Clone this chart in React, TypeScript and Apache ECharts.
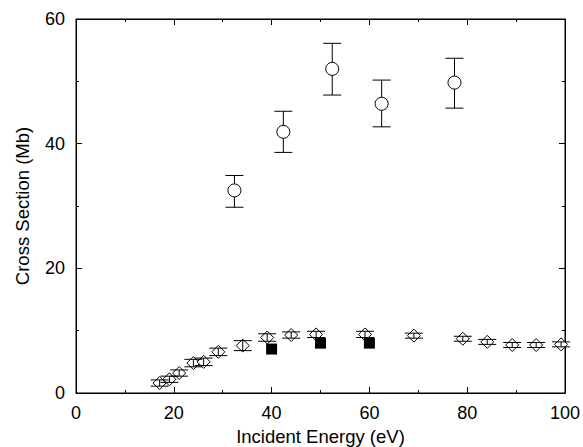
import React, { useEffect, useRef } from "react";
import * as echarts from "echarts";

const xTicks = [0, 20, 40, 60, 80, 100];
const yTicks = [0, 20, 40, 60];

const circleX = [32.4, 42.4, 52.4, 62.5, 77.4];
const circleY = [32.5, 41.9, 52.0, 46.4, 49.8];
const circleLo = [29.8, 38.6, 47.8, 42.7, 45.7];
const circleHi = [34.9, 45.2, 56.1, 50.2, 53.7];

const diamondX = [17.1, 19.1, 21.1, 24.0, 26.1, 29.1, 34.1, 39.1, 44.0, 49.1, 59.1, 69.1, 79.1, 84.1, 89.2, 94.1, 99.2];
const diamondY = [1.6, 2.2, 3.2, 4.8, 5.0, 6.6, 7.6, 8.9, 9.3, 9.4, 9.4, 9.2, 8.7, 8.2, 7.7, 7.7, 7.8];
const diamondErr = [0.5, 0.5, 0.5, 0.6, 0.6, 0.6, 0.8, 0.6, 0.5, 0.5, 0.5, 0.4, 0.4, 0.4, 0.4, 0.4, 0.4];

const squareX = [40, 50, 60];
const squareY = [7.05, 8.0, 8.0];

const FONT = "'Liberation Sans', Arial, Helvetica, sans-serif";

function errRender(params: any, api: any) {
  const x = api.value(0);
  const lo = api.value(2);
  const hi = api.value(3);
  const pLo = api.coord([x, lo]);
  const pHi = api.coord([x, hi]);
  const hw = 9;
  const style = { stroke: "#000", lineWidth: 1, fill: null };
  return {
    type: "group",
    children: [
      { type: "line", shape: { x1: pLo[0], y1: pLo[1], x2: pHi[0], y2: pHi[1] }, style },
      { type: "line", shape: { x1: pLo[0] - hw, y1: pLo[1], x2: pLo[0] + hw, y2: pLo[1] }, style },
      { type: "line", shape: { x1: pHi[0] - hw, y1: pHi[1], x2: pHi[0] + hw, y2: pHi[1] }, style },
    ],
  };
}

export default function App() {
  const ref = useRef<HTMLDivElement>(null);
  useEffect(() => {
    if (!ref.current) return;
    const chart = echarts.init(ref.current, null, { renderer: "svg" });
    const axisLine = { show: true, onZero: false, lineStyle: { color: "#000", width: 1 } };
    const baseX = {
      type: "value",
      min: 0,
      max: 100,
      interval: 20,
      axisLine,
      axisTick: { show: true, inside: true, length: 6, lineStyle: { color: "#000" } },
      minorTick: { show: true, splitNumber: 2, length: 3, lineStyle: { color: "#000" } },
      splitLine: { show: false },
    };
    const baseY = {
      type: "value",
      min: 0,
      max: 60,
      interval: 20,
      axisLine,
      axisTick: { show: true, inside: true, length: 6, lineStyle: { color: "#000" } },
      minorTick: { show: true, splitNumber: 2, length: 3, lineStyle: { color: "#000" } },
      splitLine: { show: false },
    };
    const circleData = circleX.map((x, i) => [x, circleY[i], circleLo[i], circleHi[i]]);
    const diamondData = diamondX.map((x, i) => [x, diamondY[i], diamondY[i] - diamondErr[i], diamondY[i] + diamondErr[i]]);
    const squareData = squareX.map((x, i) => [x, squareY[i]]);
    chart.setOption({
      animation: false,
      backgroundColor: "#fff",
      grid: {
        left: 76, right: 18, top: 19, bottom: 54,
        containLabel: false, outerBoundsMode: "none",
        show: true, borderColor: "#000", borderWidth: 1, backgroundColor: "transparent",
      },
      xAxis: [
        {
          ...baseX,
          position: "bottom",
          name: "Incident Energy (eV)",
          nameLocation: "middle",
          nameGap: 34,
          nameTextStyle: { fontFamily: FONT, fontSize: 18.5, color: "#000" },
          axisLabel: { show: true, fontFamily: FONT, fontSize: 18, color: "#000", margin: 11, formatter: (v: number) => (xTicks.includes(v) ? String(v) : "") },
        },
        { ...baseX, position: "top", axisLabel: { show: false } },
      ],
      yAxis: [
        {
          ...baseY,
          position: "left",
          name: "Cross Section (Mb)",
          nameLocation: "middle",
          nameGap: 44,
          nameTextStyle: { fontFamily: FONT, fontSize: 18.5, color: "#000" },
          axisLabel: { show: true, fontFamily: FONT, fontSize: 18, color: "#000", margin: 11, formatter: (v: number) => (yTicks.includes(v) ? String(v) : "") },
        },
        { ...baseY, position: "right", axisLabel: { show: false } },
      ],
      series: [
        {
          type: "custom",
          renderItem: errRender,
          data: circleData,
          encode: { x: 0, y: 1 },
          z: 2,
          silent: true,
        },
        {
          type: "scatter",
          data: circleData.map((d) => [d[0], d[1]]),
          symbol: "circle",
          symbolSize: 13,
          itemStyle: { color: "#fff", borderColor: "#000", borderWidth: 1, opacity: 1 },
          z: 3,
        },
        {
          type: "scatter",
          data: diamondData.map((d) => [d[0], d[1]]),
          symbol: "diamond",
          symbolSize: 13,
          itemStyle: { color: "#fff", borderColor: "#000", borderWidth: 1, opacity: 1 },
          z: 4,
        },
        {
          type: "custom",
          renderItem: errRender,
          data: diamondData,
          encode: { x: 0, y: 1 },
          z: 5,
          silent: true,
        },
        {
          type: "scatter",
          data: squareData,
          symbol: "rect",
          symbolSize: 11,
          itemStyle: { color: "#000", opacity: 1 },
          z: 6,
        },
        {
          type: "scatter",
          xAxisIndex: 1,
          yAxisIndex: 1,
          data: [],
          silent: true,
        },
      ],
    });
    return () => chart.dispose();
  }, []);
  return <div ref={ref} style={{ width: 583, height: 447, position: "fixed", left: 0, top: 0 }} />;
}
